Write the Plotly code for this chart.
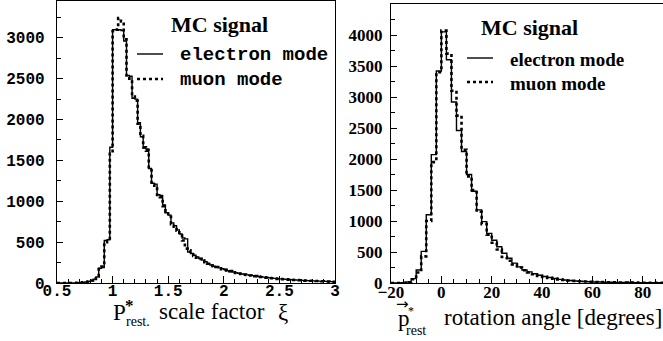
import plotly.graph_objects as go
import numpy as np

# ---------------- data ----------------
# left panel: P*_rest scale factor xi, 100 bins from 0.5 to 3.0
left_start, left_width = 0.5, 0.025
left_electron = [0, 0, 0, 0, 0, 0, 2, 3, 5, 8,
                 12, 18, 28, 45, 75, 180, 190, 520, 530, 1660,
                 3100, 3100, 3100, 3090, 2960, 2540, 2530, 2260, 2250, 1960,
                 1790, 1650, 1640, 1400, 1220, 1210, 1080, 1070, 955, 860,
                 830, 735, 700, 650, 600, 550, 540, 380, 360, 340,
                 320, 300, 280, 260, 240, 220, 205, 195, 185, 175,
                 165, 150, 140, 135, 125, 118, 110, 105, 100, 95,
                 90, 85, 80, 76, 72, 68, 64, 60, 56, 52,
                 50, 47, 45, 42, 40, 38, 36, 34, 32, 30,
                 29, 27, 26, 24, 23, 21, 20, 18, 17, 16]
left_muon = [0, 0, 0, 0, 0, 0, 1, 3, 5, 8,
             12, 18, 30, 50, 80, 170, 200, 500, 510, 1580,
             3080, 3100, 3240, 3200, 2980, 2520, 2500, 2280, 2230, 1950,
             1800, 1660, 1620, 1380, 1200, 1190, 1060, 1050, 940, 870,
             810, 720, 690, 640, 580, 520, 420, 400, 350, 330,
             310, 295, 275, 255, 235, 215, 205, 195, 180, 170,
             160, 150, 145, 130, 122, 115, 112, 102, 98, 92,
             88, 84, 78, 74, 70, 66, 62, 58, 55, 51,
             48, 46, 44, 41, 39, 37, 35, 33, 31, 29,
             28, 27, 25, 24, 22, 21, 19, 18, 17, 15]

# right panel: p*_rest rotation angle, 2-degree bins from -20
right_start, right_width = -20, 2
right_electron = [0, 0, 3, 15, 70, 210, 510, 1100, 2070, 3420,
                  4050, 3600, 2920, 2460, 2120, 1750, 1480, 1180, 990, 800,
                  690, 585, 480, 400, 320, 260, 210, 180, 150, 125,
                  105, 88, 72, 58, 48, 40, 33, 28, 24, 20,
                  17, 15, 13, 11, 10, 9, 8, 7, 6, 5,
                  5, 4, 4, 3]
right_muon = [0, 0, 2, 12, 60, 170, 430, 1000, 1950, 3400,
              4070, 3700, 3100, 2700, 2150, 1720, 1500, 1150, 950, 780,
              650, 540, 420, 360, 300, 250, 205, 170, 140, 115,
              98, 82, 70, 58, 48, 40, 34, 29, 24, 20,
              17, 15, 13, 11, 10, 9, 8, 7, 6, 5,
              5, 4, 4, 3]

left_xticks = [0.5, 1, 1.5, 2, 2.5, 3]
left_xticklabels = ["0.5", "1", "1.5", "2", "2.5", "3"]
left_yticks = [0, 500, 1000, 1500, 2000, 2500, 3000]
right_xticks = [-20, 0, 20, 40, 60, 80]
right_yticks = [0, 500, 1000, 1500, 2000, 2500, 3000, 3500, 4000, 4500]


def step_xy(start, width, vals):
    edges = start + width * np.arange(len(vals) + 1)
    return edges, list(vals) + [vals[-1]]


SERIF = "Liberation Serif"
MONO = "Liberation Mono"

fig = go.Figure()
for vals, dash, w, ax in [(left_electron, "solid", 1.4, ("x", "y")),
                          (left_muon, "dot", 2.6, ("x", "y")),
                          (right_electron, "solid", 1.4, ("x2", "y2")),
                          (right_muon, "dot", 2.6, ("x2", "y2"))]:
    if ax[0] == "x":
        xs, ys = step_xy(left_start, left_width, vals)
    else:
        xs, ys = step_xy(right_start, right_width, vals)
    fig.add_trace(go.Scatter(x=xs, y=ys, mode="lines", line_shape="hv",
                             line=dict(color="black", width=w, dash=dash),
                             xaxis=ax[0], yaxis=ax[1], showlegend=False,
                             hoverinfo="skip", cliponaxis=True))

W, H = 663, 341
def fx(px): return px / W
def fy(py): return 1 - py / H

axcommon = dict(showgrid=False, zeroline=False, showline=True, linecolor="black",
                linewidth=1.3, ticks="inside", tickcolor="black", tickwidth=1,
                automargin=False)

fig.update_layout(
    width=W, height=H, margin=dict(l=0, r=0, t=0, b=0, autoexpand=False),
    paper_bgcolor="white", plot_bgcolor="white",
    xaxis=dict(domain=[fx(57), fx(335)], range=[0.5, 3.0], anchor="y",
               tickvals=left_xticks, ticktext=left_xticklabels, ticklen=7,
               minor=dict(dtick=0.1, ticklen=3.5, ticks="inside", tickcolor="black"),
               tickfont=dict(family=MONO, size=16, color="black", weight="bold"),
               mirror=True, ticklabelstandoff=-7, **axcommon),
    yaxis=dict(domain=[fy(283), fy(1)], range=[0, 3450], anchor="x",
               tickvals=left_yticks, ticklen=6,
               minor=dict(dtick=250, ticklen=3.5, ticks="inside", tickcolor="black"),
               tickfont=dict(family=MONO, size=16, color="black", weight="bold"),
               mirror=True, ticklabelstandoff=8, **axcommon),
    xaxis2=dict(domain=[fx(391), 1.0], range=[-20, 88], anchor="y2",
                tickvals=right_xticks, ticklen=7,
                minor=dict(dtick=5, ticklen=3.5, ticks="inside", tickcolor="black"),
                tickfont=dict(family=SERIF, size=17, color="black", weight="bold"),
                mirror=True, ticklabelstandoff=-7, **axcommon),
    yaxis2=dict(domain=[fy(283), fy(4)], range=[0, 4500], anchor="x2",
                tickvals=right_yticks, ticklen=6,
                minor=dict(dtick=250, ticklen=3.5, ticks="inside", tickcolor="black"),
                tickfont=dict(family=SERIF, size=17, color="black", weight="bold"),
                mirror=False, ticklabelstandoff=4, **axcommon),
)

ann = []
def txt(x, y, s, size, family=SERIF, xanchor="left", bold=False):
    ann.append(dict(xref="paper", yref="paper", x=fx(x), y=fy(y), text=s,
                    showarrow=False, xanchor=xanchor, yanchor="middle",
                    font=dict(family=family, size=size, color="black",
                              weight="bold" if bold else "normal")))

# legends
txt(219, 24, "MC signal", 22, xanchor="center", bold=True)
txt(178, 55, "electron mode", 19, family=MONO, bold=True)
txt(178, 80, "muon mode", 19, family=MONO, bold=True)
txt(529, 27, "MC signal", 22, xanchor="center", bold=True)
txt(508, 59, "electron mode", 19, bold=True)
txt(508, 83, "muon mode", 19, bold=True)

# axis titles
txt(111, 312, "P", 23)
txt(123, 305, "*", 17, bold=True)
txt(124, 321, "rest.", 14)
txt(157, 311, "scale factor", 23)
txt(276, 312, "ξ", 23)

txt(396, 318, "p", 23)
txt(394, 304, "→", 15, family="DejaVu Sans")
txt(406, 311, "*", 12)
txt(404, 330, "rest", 14)
txt(442, 317, "rotation angle [degrees]", 23)

fig.update_layout(annotations=ann)

shapes = []
for (x0, x1, y, dash, w) in [(137, 163, 54, "solid", 1.4), (137, 163, 79, "dot", 2.6),
                             (467, 493, 58, "solid", 1.4), (467, 493, 82, "dot", 2.6)]:
    shapes.append(dict(type="line", xref="paper", yref="paper",
                       x0=fx(x0), x1=fx(x1), y0=fy(y), y1=fy(y),
                       line=dict(color="black", width=w, dash=dash)))
fig.update_layout(shapes=shapes)

fig.write_html("out.html")
